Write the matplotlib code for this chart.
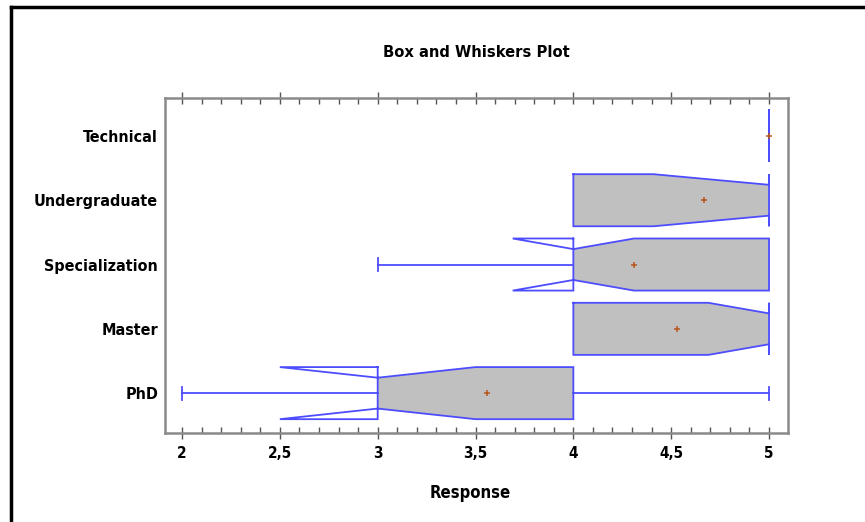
import matplotlib
matplotlib.use("Agg")
import matplotlib.pyplot as plt
from matplotlib.lines import Line2D
from matplotlib.ticker import MultipleLocator
from matplotlib import font_manager
from matplotlib.font_manager import FontProperties

# ---- data ----
categories = ['PhD', 'Master', 'Specialization', 'Undergraduate', 'Technical']
minimum  = [2.0, 4.0, 3.0, 4.0, 5.0]
q1       = [3.0, 4.0, 4.0, 4.0, 5.0]
median   = [3.0, 5.0, 4.0, 5.0, 5.0]
q3       = [4.0, 5.0, 5.0, 5.0, 5.0]
maximum  = [5.0, 5.0, 5.0, 5.0, 5.0]
notch_lo = [2.5, 4.69, 3.69, 4.41, 5.0]
notch_hi = [3.5, 5.0, 4.31, 5.0, 5.0]
mean     = [3.56, 4.53, 4.31, 4.67, 5.0]
x_ticks  = [2, 2.5, 3, 3.5, 4, 4.5, 5]

# ---- fonts: prefer a narrow / condensed bold sans ----
cand = None
for key in ['LiberationSansNarrow-Bold.', 'DejaVuSansCondensed-Bold.', 'RobotoCondensed-Bold', 'Condensed-Bold', 'Narrow-Bold']:
    for f in font_manager.fontManager.ttflist:
        if key.lower() in f.fname.lower().replace('_', '-') and 'oblique' not in f.fname.lower() and 'italic' not in f.fname.lower():
            cand = f.fname
            break
    if cand:
        break

def fp(size):
    if cand:
        return FontProperties(fname=cand, size=size)
    return FontProperties(family=['Liberation Sans', 'DejaVu Sans'], weight='bold', size=size * 0.87)

BLUE = '#4d4dff'
GREY = '#c0c0c0'
MEANC = '#b8561f'

fig = plt.figure(figsize=(8.65, 5.22), dpi=100)
ax = fig.add_axes([165/865, 1-433/522, (788-165)/865, (433-98)/522])

half = 0.405   # box half-height
nh = 0.24      # notch half-height
cap = 0.1

for i in range(len(categories)):
    y = i
    top, bot = y + half, y - half
    ntop, nbot = y + nh, y - nh
    xs = [q1[i], notch_lo[i], median[i], notch_hi[i], q3[i], q3[i],
          notch_hi[i], median[i], notch_lo[i], q1[i], q1[i]]
    ys = [top, top, ntop, top, top, bot, bot, nbot, bot, bot, top]
    fx = [min(max(v, q1[i]), q3[i]) for v in xs]
    ax.fill(fx, ys, color=GREY, lw=0, zorder=1)
    ax.plot(xs, ys, color=BLUE, lw=1.3, zorder=2, solid_joinstyle='miter')
    if minimum[i] < q1[i]:
        ax.plot([minimum[i], q1[i]], [y, y], color=BLUE, lw=1.3, zorder=2)
        ax.plot([minimum[i], minimum[i]], [y - cap, y + cap], color=BLUE, lw=1.3, zorder=2)
    if maximum[i] > q3[i]:
        ax.plot([q3[i], maximum[i]], [y, y], color=BLUE, lw=1.3, zorder=2)
        ax.plot([maximum[i], maximum[i]], [y - cap, y + cap], color=BLUE, lw=1.3, zorder=2)
    ax.plot([mean[i]], [y], marker='+', color=MEANC, ms=4.5, mew=1.1, zorder=3)

ax.set_xlim(1.913, 5.097)
ax.set_ylim(-0.62, 4.59)
ax.set_yticks(range(len(categories)))
ax.set_yticklabels(categories, fontproperties=fp(11.5))
ax.tick_params(axis='y', length=0, pad=5)

ax.set_xticks(x_ticks)
ax.xaxis.set_minor_locator(MultipleLocator(0.1))
ax.set_xticklabels([('%g' % v).replace('.', ',') for v in x_ticks], fontproperties=fp(11))
ax.tick_params(axis='x', which='major', direction='inout', length=8, width=1,
               color='#555555', top=True, pad=5)
ax.tick_params(axis='x', which='minor', direction='in', length=4, width=1,
               color='#555555', top=True)

for s in ax.spines.values():
    s.set_color('#8a8a8a')
    s.set_linewidth(1.8)

ax.set_xlabel('Response', fontproperties=fp(12), labelpad=17)
ax.xaxis.label.set_x((470 - 165) / 623)
ax.set_title('Box and Whiskers Plot', fontproperties=fp(11.8), pad=29.5)

fig.add_artist(Line2D([11/865, 1], [1-7/522, 1-7/522], color='black', lw=2.5,
                      transform=fig.transFigure))
fig.add_artist(Line2D([11/865, 11/865], [0, 1-7/522], color='black', lw=2.5,
                      transform=fig.transFigure))

fig.savefig('out.png', dpi=100)
